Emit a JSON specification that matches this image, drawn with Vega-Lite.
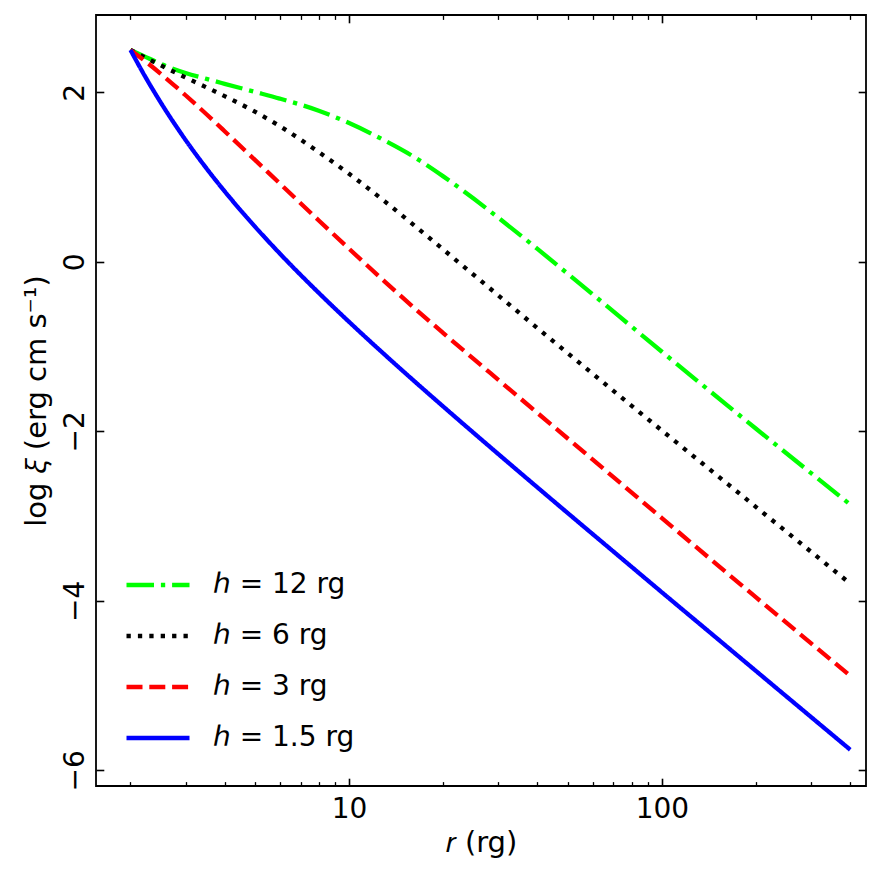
{
  "$schema": "https://vega.github.io/schema/vega-lite/v6.json",
  "width": 770,
  "height": 771,
  "autosize": "none",
  "padding": {"left": 96, "top": 15, "right": 15, "bottom": 94},
  "config": {
    "view": {"stroke": "#000000", "strokeWidth": 1.8},
    "font": "DejaVu Sans",
    "axis": {
      "domain": false, "grid": false,
      "labelFont": "DejaVu Sans", "labelFontSize": 28, "labelColor": "#000000",
      "tickColor": "#000000", "tickWidth": 1.6,
      "titleFont": "DejaVu Sans", "titleFontSize": 29, "titleFontWeight": "normal", "titleColor": "#000000",
      "labelOverlap": false, "labelFlush": false
    }
  },
  "data": {
    "values": [
      {"h": "ℎ = 12 rg", "r": 2, "v": 2.5},
      {"h": "ℎ = 12 rg", "r": 2.2, "v": 2.43},
      {"h": "ℎ = 12 rg", "r": 2.5, "v": 2.335},
      {"h": "ℎ = 12 rg", "r": 3, "v": 2.228},
      {"h": "ℎ = 12 rg", "r": 3.5, "v": 2.158},
      {"h": "ℎ = 12 rg", "r": 4, "v": 2.1},
      {"h": "ℎ = 12 rg", "r": 5, "v": 2.005},
      {"h": "ℎ = 12 rg", "r": 6, "v": 1.926},
      {"h": "ℎ = 12 rg", "r": 8, "v": 1.782},
      {"h": "ℎ = 12 rg", "r": 10, "v": 1.637},
      {"h": "ℎ = 12 rg", "r": 13, "v": 1.43},
      {"h": "ℎ = 12 rg", "r": 16, "v": 1.245},
      {"h": "ℎ = 12 rg", "r": 20, "v": 1.008},
      {"h": "ℎ = 12 rg", "r": 25, "v": 0.746},
      {"h": "ℎ = 12 rg", "r": 30, "v": 0.52},
      {"h": "ℎ = 12 rg", "r": 40, "v": 0.152},
      {"h": "ℎ = 12 rg", "r": 50, "v": -0.141},
      {"h": "ℎ = 12 rg", "r": 65, "v": -0.488},
      {"h": "ℎ = 12 rg", "r": 80, "v": -0.765},
      {"h": "ℎ = 12 rg", "r": 100, "v": -1.061},
      {"h": "ℎ = 12 rg", "r": 130, "v": -1.407},
      {"h": "ℎ = 12 rg", "r": 160, "v": -1.679},
      {"h": "ℎ = 12 rg", "r": 200, "v": -1.97},
      {"h": "ℎ = 12 rg", "r": 250, "v": -2.259},
      {"h": "ℎ = 12 rg", "r": 300, "v": -2.494},
      {"h": "ℎ = 12 rg", "r": 400, "v": -2.864},

      {"h": "ℎ = 6 rg", "r": 2, "v": 2.5},
      {"h": "ℎ = 6 rg", "r": 2.2, "v": 2.421},
      {"h": "ℎ = 6 rg", "r": 2.5, "v": 2.318},
      {"h": "ℎ = 6 rg", "r": 3, "v": 2.175},
      {"h": "ℎ = 6 rg", "r": 3.5, "v": 2.058},
      {"h": "ℎ = 6 rg", "r": 4, "v": 1.955},
      {"h": "ℎ = 6 rg", "r": 5, "v": 1.771},
      {"h": "ℎ = 6 rg", "r": 6, "v": 1.601},
      {"h": "ℎ = 6 rg", "r": 8, "v": 1.295},
      {"h": "ℎ = 6 rg", "r": 10, "v": 1.038},
      {"h": "ℎ = 6 rg", "r": 13, "v": 0.713},
      {"h": "ℎ = 6 rg", "r": 16, "v": 0.442},
      {"h": "ℎ = 6 rg", "r": 20, "v": 0.145},
      {"h": "ℎ = 6 rg", "r": 25, "v": -0.153},
      {"h": "ℎ = 6 rg", "r": 30, "v": -0.397},
      {"h": "ℎ = 6 rg", "r": 40, "v": -0.782},
      {"h": "ℎ = 6 rg", "r": 50, "v": -1.079},
      {"h": "ℎ = 6 rg", "r": 70, "v": -1.523},
      {"h": "ℎ = 6 rg", "r": 100, "v": -1.991},
      {"h": "ℎ = 6 rg", "r": 150, "v": -2.519},
      {"h": "ℎ = 6 rg", "r": 200, "v": -2.894},
      {"h": "ℎ = 6 rg", "r": 300, "v": -3.422},
      {"h": "ℎ = 6 rg", "r": 400, "v": -3.797},

      {"h": "ℎ = 3 rg", "r": 2, "v": 2.5},
      {"h": "ℎ = 3 rg", "r": 2.2, "v": 2.384},
      {"h": "ℎ = 3 rg", "r": 2.5, "v": 2.218},
      {"h": "ℎ = 3 rg", "r": 3, "v": 1.965},
      {"h": "ℎ = 3 rg", "r": 3.5, "v": 1.741},
      {"h": "ℎ = 3 rg", "r": 4, "v": 1.541},
      {"h": "ℎ = 3 rg", "r": 5, "v": 1.202},
      {"h": "ℎ = 3 rg", "r": 6, "v": 0.925},
      {"h": "ℎ = 3 rg", "r": 8, "v": 0.488},
      {"h": "ℎ = 3 rg", "r": 10, "v": 0.154},
      {"h": "ℎ = 3 rg", "r": 13, "v": -0.233},
      {"h": "ℎ = 3 rg", "r": 16, "v": -0.531},
      {"h": "ℎ = 3 rg", "r": 20, "v": -0.841},
      {"h": "ℎ = 3 rg", "r": 25, "v": -1.146},
      {"h": "ℎ = 3 rg", "r": 30, "v": -1.393},
      {"h": "ℎ = 3 rg", "r": 40, "v": -1.783},
      {"h": "ℎ = 3 rg", "r": 50, "v": -2.085},
      {"h": "ℎ = 3 rg", "r": 70, "v": -2.541},
      {"h": "ℎ = 3 rg", "r": 100, "v": -3.024},
      {"h": "ℎ = 3 rg", "r": 150, "v": -3.573},
      {"h": "ℎ = 3 rg", "r": 200, "v": -3.96},
      {"h": "ℎ = 3 rg", "r": 300, "v": -4.502},
      {"h": "ℎ = 3 rg", "r": 400, "v": -4.885},

      {"h": "ℎ = 1.5 rg", "r": 2, "v": 2.5},
      {"h": "ℎ = 1.5 rg", "r": 2.2, "v": 2.222},
      {"h": "ℎ = 1.5 rg", "r": 2.5, "v": 1.879},
      {"h": "ℎ = 1.5 rg", "r": 3, "v": 1.438},
      {"h": "ℎ = 1.5 rg", "r": 3.5, "v": 1.102},
      {"h": "ℎ = 1.5 rg", "r": 4, "v": 0.832},
      {"h": "ℎ = 1.5 rg", "r": 5, "v": 0.416},
      {"h": "ℎ = 1.5 rg", "r": 6, "v": 0.099},
      {"h": "ℎ = 1.5 rg", "r": 8, "v": -0.367},
      {"h": "ℎ = 1.5 rg", "r": 10, "v": -0.709},
      {"h": "ℎ = 1.5 rg", "r": 13, "v": -1.096},
      {"h": "ℎ = 1.5 rg", "r": 16, "v": -1.394},
      {"h": "ℎ = 1.5 rg", "r": 20, "v": -1.708},
      {"h": "ℎ = 1.5 rg", "r": 25, "v": -2.018},
      {"h": "ℎ = 1.5 rg", "r": 30, "v": -2.269},
      {"h": "ℎ = 1.5 rg", "r": 40, "v": -2.662},
      {"h": "ℎ = 1.5 rg", "r": 50, "v": -2.965},
      {"h": "ℎ = 1.5 rg", "r": 70, "v": -3.419},
      {"h": "ℎ = 1.5 rg", "r": 100, "v": -3.9},
      {"h": "ℎ = 1.5 rg", "r": 150, "v": -4.443},
      {"h": "ℎ = 1.5 rg", "r": 200, "v": -4.829},
      {"h": "ℎ = 1.5 rg", "r": 300, "v": -5.372},
      {"h": "ℎ = 1.5 rg", "r": 400, "v": -5.757}
    ]
  },
  "layer": [
    {
      "mark": {"type": "line", "strokeWidth": 4.3, "interpolate": "monotone"},
      "encoding": {
        "x": {
          "field": "r", "type": "quantitative",
          "scale": {"type": "log", "domain": [1.552, 449.2], "nice": false},
          "axis": {
            "orient": "bottom",
            "values": [10, 100],
            "labelExpr": "datum.value == 10 ? '10' : '100'",
            "tickSize": -7.8,
            "labelPadding": 16.8,
            "title": "𝑟 (rg)",
            "titlePadding": 5
          }
        },
        "y": {
          "field": "v", "type": "quantitative",
          "scale": {"domain": [-6.185, 2.912], "nice": false, "zero": false},
          "axis": {
            "orient": "left",
            "values": [-6, -4, -2, 0, 2],
            "labelAngle": -90,
            "tickSize": -7.8,
            "labelPadding": 14.8,
            "title": "log 𝜉 (erg cm s⁻¹)",
            "titlePadding": 10
          }
        },
        "color": {
          "field": "h", "type": "nominal",
          "scale": {"domain": ["ℎ = 12 rg", "ℎ = 6 rg", "ℎ = 3 rg", "ℎ = 1.5 rg"], "range": ["#00ff00", "#000000", "#ff0000", "#0000ff"]},
          "legend": {
            "title": null, "orient": "none", "legendX": 28, "legendY": 536,
            "symbolType": "stroke", "symbolSize": 3969, "symbolStrokeWidth": 4.3,
            "labelFont": "DejaVu Sans", "labelFontSize": 28, "labelColor": "#000000",
            "labelOffset": 21, "rowPadding": 3, "padding": 0, "labelLimit": 400
          }
        },
        "strokeDash": {
          "field": "h", "type": "nominal",
          "scale": {"domain": ["ℎ = 12 rg", "ℎ = 6 rg", "ℎ = 3 rg", "ℎ = 1.5 rg"], "range": [[27.5, 6.9, 4.3, 6.9], [4.3, 7.1], [16, 6.8], [1, 0]]},
          "legend": {
            "title": null, "orient": "none", "legendX": 28, "legendY": 536,
            "symbolType": "stroke", "symbolSize": 3969, "symbolStrokeWidth": 4.3,
            "labelFont": "DejaVu Sans", "labelFontSize": 28, "labelColor": "#000000",
            "labelOffset": 21, "rowPadding": 3, "padding": 0, "labelLimit": 400
          }
        }
      }
    },
    {
      "mark": {"type": "line", "strokeOpacity": 0},
      "encoding": {
        "detail": {"field": "h", "type": "nominal"},
        "x": {
          "field": "r", "type": "quantitative",
          "axis": {
            "orient": "bottom",
            "values": [2, 3, 4, 5, 6, 7, 8, 9, 20, 30, 40, 50, 60, 70, 80, 90, 200, 300, 400],
            "tickSize": -4.4, "tickWidth": 1.3, "labels": false, "title": null
          }
        },
        "y": {
          "field": "v", "type": "quantitative",
          "axis": {
            "orient": "right",
            "values": [-6, -4, -2, 0, 2],
            "tickSize": -7.8, "labels": false, "title": null
          }
        }
      }
    },
    {
      "mark": {"type": "line", "strokeOpacity": 0},
      "encoding": {
        "detail": {"field": "h", "type": "nominal"},
        "x": {
          "field": "r", "type": "quantitative",
          "axis": {
            "orient": "top",
            "values": [10, 100],
            "tickSize": -7.8, "labels": false, "title": null
          }
        },
        "y": {"field": "v", "type": "quantitative", "axis": null}
      }
    },
    {
      "mark": {"type": "line", "strokeOpacity": 0},
      "encoding": {
        "detail": {"field": "h", "type": "nominal"},
        "x": {
          "field": "r", "type": "quantitative",
          "axis": {
            "orient": "top",
            "values": [2, 3, 4, 5, 6, 7, 8, 9, 20, 30, 40, 50, 60, 70, 80, 90, 200, 300, 400],
            "tickSize": -4.4, "tickWidth": 1.3, "labels": false, "title": null
          }
        },
        "y": {"field": "v", "type": "quantitative", "axis": null}
      }
    }
  ],
  "resolve": {"axis": {"x": "independent", "y": "independent"}}
}
